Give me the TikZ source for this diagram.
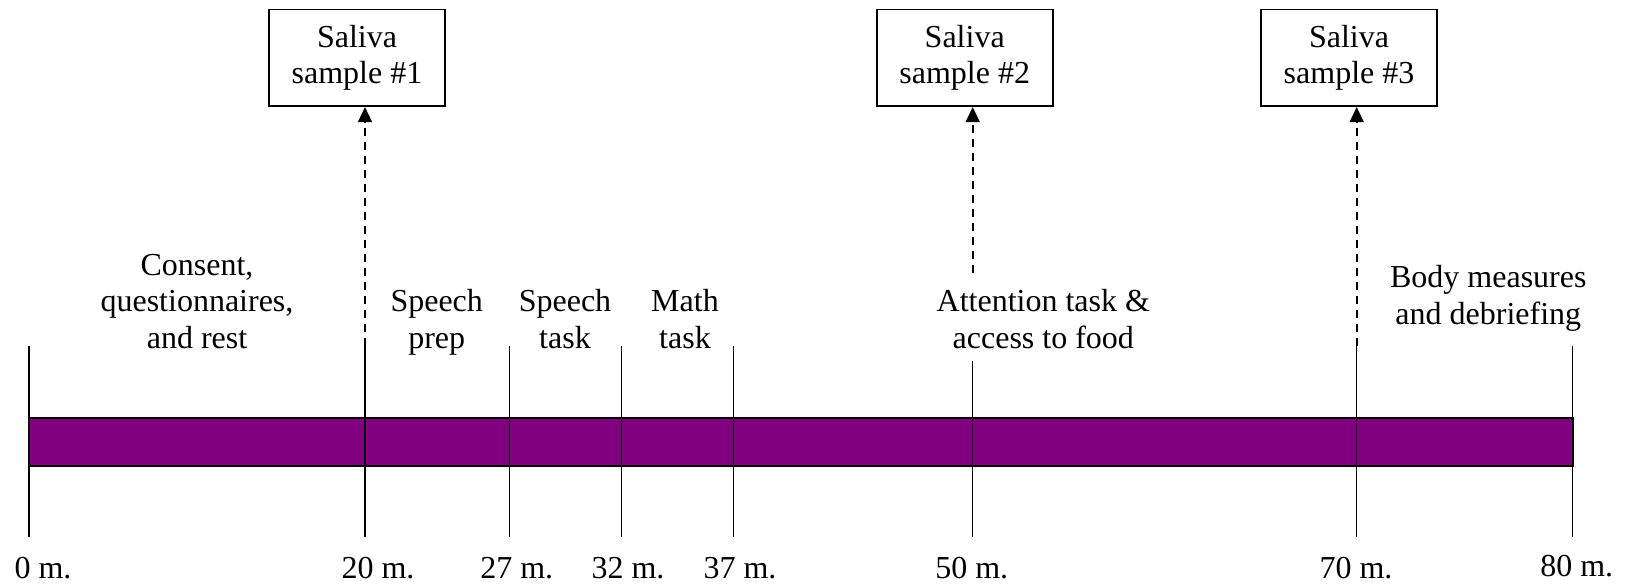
\documentclass[tikz,border=0pt]{standalone}
\usepackage{fontspec}
\setmainfont{Liberation Serif}
\usetikzlibrary{arrows.meta, positioning}
\definecolor{barpurple}{RGB}{128,0,128}

\begin{document}
\begin{tikzpicture}[x=0.5pt, y=-0.5pt,
    samplebox/.style={draw, line width=0.8pt, minimum width=88pt, minimum height=48.3pt, inner sep=0pt, align=center},
    phaselabel/.style={anchor=base, inner sep=0pt, align=center},
    minlabel/.style={anchor=base, inner sep=0pt},
    tickline/.style={line width=0.75pt},
    samplearrow/.style={line width=0.85pt, dash pattern=on 4pt off 3pt, -{Triangle[width=7pt, length=7.5pt]}}]
\fontsize{16}{18.3}\selectfont
\useasboundingbox (0,0) rectangle (1625,587);

        % Saliva samples
        \node[samplebox] at (357, 58)      (s1)     {Saliva\\sample \#1};
        \node[samplebox] at (964.7, 58)    (s2)     {Saliva\\sample \#2};
        \node[samplebox] at (1349, 58)     (s3)     {Saliva\\sample \#3};

        % Phases (base = last line)
        \node[phaselabel] at (197, 348.3)    (consent)  {Consent,\\questionnaires,\\and rest};
        \node[phaselabel] at (436.7, 348.3)  (prep)     {Speech\\prep};
        \node[phaselabel] at (565, 348.3)    (speech)   {Speech\\task};
        \node[phaselabel] at (685, 348.3)    (math)     {Math\\task};
        \node[phaselabel] at (1043.3, 348.3) (food)     {Attention task \&\\access to food};
        \node[phaselabel] at (1488.3, 324)   (body)     {Body measures\\and debriefing};

        % Tick ends
        \coordinate (t0a)  at (29, 346);     \coordinate (t0b)  at (29, 537);
        \coordinate (t20a) at (365, 346);    \coordinate (t20b) at (365, 537);
        \coordinate (t27a) at (509.3, 346);  \coordinate (t27b) at (509.3, 537);
        \coordinate (t32a) at (621.3, 346);  \coordinate (t32b) at (621.3, 537);
        \coordinate (t37a) at (733.3, 346);  \coordinate (t37b) at (733.3, 537);
        \coordinate (t50a) at (972.7, 361);  \coordinate (t50b) at (972.7, 537);
        \coordinate (t70a) at (1356.7, 346); \coordinate (t70b) at (1356.7, 537);
        \coordinate (t80a) at (1572.7, 346); \coordinate (t80b) at (1572.7, 537);
        \coordinate (a50)  at (972.7, 273);

        % Time bar
        \coordinate (bar0)  at (29, 417.7);
        \coordinate (bar80) at (1572.7, 466);
\draw[fill=barpurple, line width=0.85pt]  (bar0) rectangle (bar80);

\draw[tickline]  (t0a) -- (t0b);
\draw[tickline]  (t20a) -- (t20b);
\draw[tickline]  (t27a) -- (t27b);
\draw[tickline]  (t32a) -- (t32b);
\draw[tickline]  (t37a) -- (t37b);
\draw[tickline]  (t50a) -- (t50b);
\draw[tickline]  (t70a) -- (t70b);
\draw[tickline]  (t80a) -- (t80b);

\draw[samplearrow]  (t20a) -- (t20a |- s1.south);
\draw[samplearrow]  (a50) -- (a50 |- s2.south);
\draw[samplearrow]  (t70a) -- (t70a |- s3.south);

        % Minutes
        \node[minlabel] at (43, 578.3)     (m0)   {0 m.};
        \node[minlabel] at (378, 578.3)    (m20)  {20 m.};
        \node[minlabel] at (516.7, 578.3)  (m27)  {27 m.};
        \node[minlabel] at (628, 578.3)    (m32)  {32 m.};
        \node[minlabel] at (740, 578.3)    (m37)  {37 m.};
        \node[minlabel] at (971.7, 578.3)  (m50)  {50 m.};
        \node[minlabel] at (1356, 578.3)   (m70)  {70 m.};
        \node[minlabel] at (1576.7, 576)   (m80)  {80 m.};
\end{tikzpicture}
\end{document}
